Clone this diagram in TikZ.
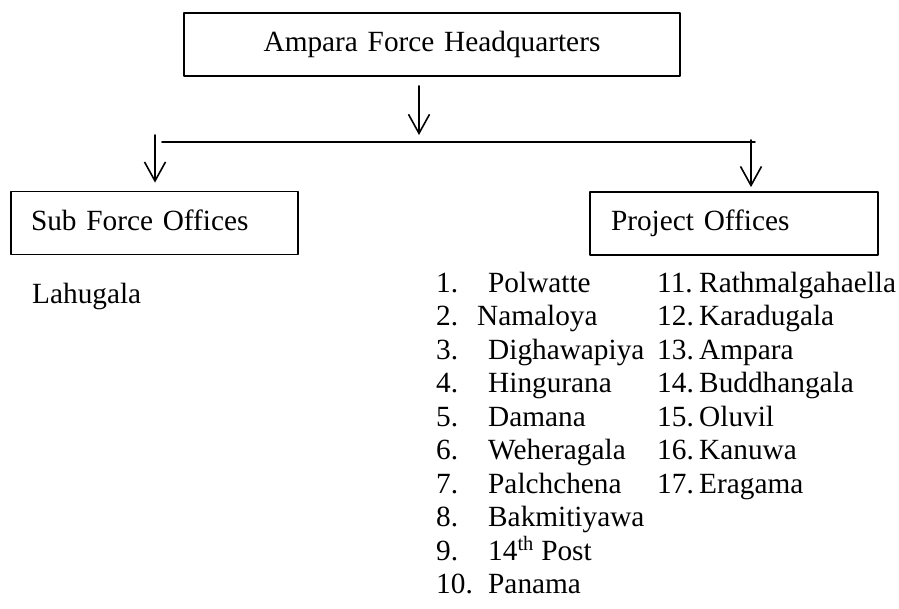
\documentclass[tikz,border=0pt]{standalone}
\usepackage{fontspec}
\setmainfont{Liberation Serif}
\usetikzlibrary{arrows.meta}

\begin{document}
\begin{tikzpicture}[x=1pt, y=-1pt, line cap=round, line join=round,
		>={Straight Barb[length=19pt, width=21pt]},
		every node/.style={font=\fontsize{29.3}{33.5}\selectfont, inner sep=0pt},
		office/.style={draw, line width=1.8pt, minimum height=63pt, text height=20pt, text depth=6pt},
		link/.style={line width=1.6pt}]
	% Define window bounds
	\def\xmin{0} \def\xmax{899}
	\def\ymin{0} \def\ymax{608}
	\useasboundingbox (\xmin,\ymin) rectangle (\xmax,\ymax);
	
	% Row spacing of the lists
	\def\rowy{292} \def\rowh{33.5}
	
	% Office boxes
	\node[office, text width=456pt, inner xsep=20pt, align=center] (hq) at (432,44.5) {Ampara Force Headquarters};
	\node[office, text width=247pt, inner xsep=20pt, align=left] (sub) at (154.5,223) {Sub Force Offices};
	\node[office, text width=246pt, inner xsep=21pt, align=left] (proj) at (734,223.5) {Project Offices};
	
	% Key points of the branching line
	\coordinate (hqdrop) at (419,142);
	\coordinate (busL) at (162,142);
	\coordinate (busR) at (755,142);
	\coordinate (subdrop) at (155,135);
	\coordinate (projdrop) at (751,140);
	
	% Branching line and arrows
	\draw[link] (busL) -- (busR);
	\draw[link, ->, shorten <=9pt, shorten >=7pt] (hq.south -| hqdrop) -- (hqdrop);
	\draw[link, ->, shorten >=8pt] (subdrop) -- (subdrop |- sub.north);
	\draw[link, ->, shorten >=4pt] (projdrop) -- (projdrop |- proj.north);
	
	% Sub force office
	\node[anchor=base west] (lahugala) at (32,303) {Lahugala};
	
	% Project offices, first column
	\foreach \k/\place/\tx [count=\i] in {1/Polwatte/488, 2/Namaloya/477, 3/Dighawapiya/488,
			4/Hingurana/488, 5/Damana/488, 6/Weheragala/488, 7/Palchchena/488,
			8/Bakmitiyawa/488, 9/{14\textsuperscript{th} Post}/488, 10/Panama/488}{
		\node[anchor=base west] (num\k) at (436, {\rowy+\rowh*(\i-1)}) {\k.};
		\node[anchor=base west] (site\k) at (\tx, {\rowy+\rowh*(\i-1)}) {\place};
	}
	
	% Project offices, second column
	\foreach \k/\place [count=\i] in {11/Rathmalgahaella, 12/Karadugala, 13/Ampara,
			14/Buddhangala, 15/Oluvil, 16/Kanuwa, 17/Eragama}{
		\node[anchor=base west] (num\k) at (657, {\rowy+\rowh*(\i-1)}) {\k.};
		\node[anchor=base west] (site\k) at (699, {\rowy+\rowh*(\i-1)}) {\place};
	}
\end{tikzpicture}
\end{document}
